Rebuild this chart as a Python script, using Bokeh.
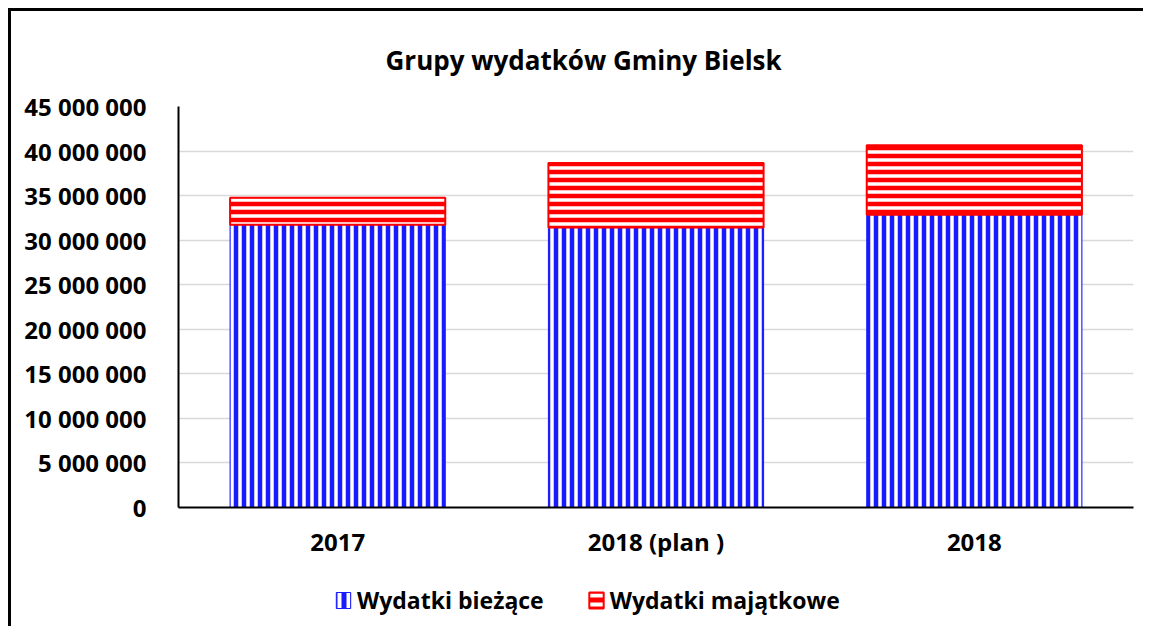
from bokeh.plotting import figure
from bokeh.models import FixedTicker, Legend, LegendItem, Range1d, Title
from bokeh.layouts import column
from bokeh.embed import file_html
from bokeh.resources import INLINE

categories = ["2017", "2018 (plan )", "2018"]
wydatki_biezace = [31.74e6, 31.41e6, 32.86e6]
wydatki_majatkowe = [3.01e6, 7.24e6, 7.79e6]
series_names = ["Wydatki bieżące", "Wydatki majątkowe"]
y_ticks = [0, 5e6, 10e6, 15e6, 20e6, 25e6, 30e6, 35e6, 40e6, 45e6]
y_tick_labels = ["0", "5 000 000", "10 000 000", "15 000 000", "20 000 000",
                 "25 000 000", "30 000 000", "35 000 000", "40 000 000", "45 000 000"]
title_text = "Grupy wydatków Gminy Bielsk"

FONT = "Open Sans"
BLUE = "#1a1aff"
RED = "#ff0000"
styles = dict(fill_color=[BLUE, RED], line_color=[BLUE, RED], line_width=[1, 2],
              hatch_pattern=["vertical_line", "horizontal_line"])

p = figure(x_range=categories, y_range=Range1d(0, 45e6), width=1132, height=549,
           output_backend="svg", toolbar_location=None,
           min_border_left=167, min_border_right=10, min_border_top=92, min_border_bottom=53)
p.outline_line_color = None

data = dict(cat=categories, b=wydatki_biezace, m=wydatki_majatkowe)
rs = p.vbar_stack(["b", "m"], x="cat", width=0.676, source=data,
                  hatch_color="white", hatch_weight=3.5, hatch_scale=8, **styles)

t = Title(text=title_text, align="left", text_font=FONT, text_font_size="26px",
          text_font_style="bold", text_color="black", offset=207, standoff=57)
p.add_layout(t, "above")

p.yaxis.ticker = FixedTicker(ticks=y_ticks)
p.yaxis.major_label_overrides = {t_: l for t_, l in zip(y_ticks, y_tick_labels)}
for ax in [p.xaxis[0], p.yaxis[0]]:
    ax.major_label_text_font = FONT
    ax.major_label_text_font_size = "24px"
    ax.major_label_text_font_style = "bold"
    ax.major_label_text_color = "black"
    ax.major_tick_line_color = None
    ax.minor_tick_line_color = None
    ax.axis_line_color = "black"
    ax.axis_line_width = 2
p.yaxis.major_label_standoff = 26
p.xaxis.major_label_standoff = 11

p.xgrid.grid_line_color = None
p.ygrid.grid_line_color = "#d9d9d9"
p.ygrid.grid_line_width = 1.5

# legend strip below the chart (hidden copies of the series feed the legend glyphs)
lg = figure(width=1132, height=66, output_backend="svg", toolbar_location=None,
            x_axis_location=None, y_axis_location=None,
            min_border_left=167, min_border_right=10, min_border_top=0, min_border_bottom=0,
            x_range=categories, y_range=Range1d(-2, -1))
lg.outline_line_color = None
lg.grid.grid_line_color = None
hidden = lg.vbar_stack(["b", "m"], x="cat", width=0.676, source=data,
                       hatch_color="white", hatch_weight=4, hatch_scale=9, **styles)
for r in hidden:
    r.visible = False
legend = Legend(items=[LegendItem(label=series_names[0], renderers=[hidden[0]]),
                       LegendItem(label=series_names[1], renderers=[hidden[1]])],
                orientation="horizontal", location=(156, 10),
                label_text_font=FONT, label_text_font_size="23px", label_text_font_style="bold",
                label_text_color="black", inactive_fill_alpha=0,
                glyph_width=18, glyph_height=20, spacing=43, label_standoff=5,
                border_line_color=None, background_fill_alpha=0, padding=0, margin=0)
lg.add_layout(legend)

layout = column(p, lg, spacing=0, margin=(8, 0, 0, 8),
                styles={"border-left": "3px solid black", "border-top": "3px solid black"})
open("out.html", "w").write(file_html(layout, INLINE))
